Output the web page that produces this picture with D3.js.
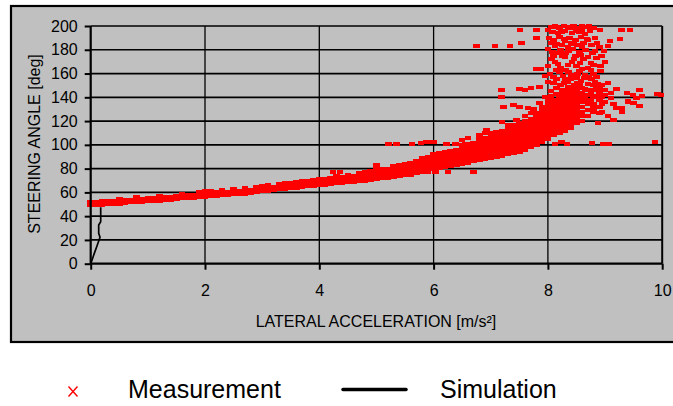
<!DOCTYPE html>
<html>
<head>
<meta charset="utf-8">
<script src="https://cdn.jsdelivr.net/npm/d3@7"></script>
<style>
  html, body { margin: 0; padding: 0; background: #ffffff; }
  svg { display: block; }
  text { font-family: Arial, "Liberation Sans", sans-serif; fill: #000; }
</style>
</head>
<body>
<svg id="chart" width="673" height="406"></svg>
<script>
// ---------------- data ----------------
const xTicks = [0, 2, 4, 6, 8, 10];
const yTicks = [0, 20, 40, 60, 80, 100, 120, 140, 160, 180, 200];
const xTitle = "LATERAL ACCELERATION [m/s²]";
const yTitle = "STEERING ANGLE [deg]";
const seriesNames = ["Measurement", "Simulation"];

// Simulation curve [lateral acceleration, steering angle]
const simulation = [
  [0.00, 0], [0.03, 4], [0.063, 8.7], [0.105, 14.3], [0.163, 22.2],
  [0.14, 25.6], [0.14, 32.6], [0.175, 35.3], [0.175, 47.4]
];

// Measurement band: [lateral acceleration, steering angle samples...]
const measurementBand = [
  [0.0, 49, 51.5], [0.1, 49.5, 52], [0.2, 49, 51.5, 53], [0.3, 50, 52.5],
  [0.4, 50.5, 53], [0.5, 50.5, 53, 54.5], [0.6, 51, 53.5], [0.7, 51.5, 54],
  [0.8, 51.5, 54.5, 56], [0.9, 52, 54.5], [1.0, 52.5, 55], [1.1, 53, 55.5],
  [1.2, 53, 55.5, 57], [1.3, 53.5, 56], [1.4, 54, 56.5], [1.5, 54.5, 57],
  [1.6, 55, 57.5, 59], [1.7, 55, 57.5], [1.8, 55.5, 58], [1.9, 56, 58.5, 60],
  [2.0, 56.5, 59, 61.5], [2.1, 57, 59.5, 61], [2.2, 57, 60], [2.3, 57.5, 60, 62],
  [2.4, 58, 60.5], [2.5, 58.5, 61, 63], [2.6, 59, 61.5], [2.7, 59, 62, 64],
  [2.8, 59.5, 62], [2.9, 60, 62.5, 64.5], [3.0, 61, 63.5, 65], [3.1, 61.5, 64, 66],
  [3.2, 62, 64.5], [3.3, 62.5, 65, 67], [3.4, 63, 65.5, 67.5], [3.5, 63.5, 66, 68],
  [3.6, 64, 66.5, 69], [3.7, 64.5, 67, 69.5], [3.8, 65, 67.5, 70], [3.9, 65.5, 68, 70.5],
  [4.0, 66, 68.5, 71], [4.1, 66.5, 69, 71.5], [4.2, 67, 69.5, 72], [4.3, 67.5, 70, 72.5, 74],
  [4.4, 68, 70.5, 73], [4.5, 68.5, 71, 73.5, 75], [4.6, 69, 71.5, 74], [4.7, 69.5, 72, 74.5, 76.5],
  [4.8, 70, 72.5, 75, 77.5], [4.9, 70.5, 73, 75.5, 78], [5.0, 71, 73.5, 76, 78.5, 80],
  [5.1, 72, 74.5, 77, 79.5], [5.2, 72.5, 75, 77.5, 80], [5.3, 73, 75.5, 78, 80.5, 82],
  [5.4, 73.5, 76, 78.5, 81, 83], [5.5, 74.5, 77, 79.5, 82, 84], [5.6, 75, 77.5, 80, 82.5, 85],
  [5.7, 76, 78.5, 81, 83.5, 86], [5.8, 77, 79.5, 82, 84.5, 87, 89], [5.9, 78, 80.5, 83, 85.5, 88, 90],
  [6.0, 79.5, 82, 84.5, 87, 89.5, 92], [6.1, 80.5, 83, 85.5, 88, 90.5, 93],
  [6.2, 81, 84, 86.5, 89, 91.5, 94], [6.3, 82, 85, 87.5, 90, 92.5, 95],
  [6.4, 83, 86, 88.5, 91, 93.5, 96], [6.5, 84, 87, 89.5, 92, 94.5, 97, 99.5],
  [6.6, 85, 88, 90.5, 93, 95.5, 98, 100.5], [6.7, 86, 89, 91.5, 94, 96.5, 99, 101.5],
  [6.8, 87, 90, 92.5, 95, 97.5, 100, 102.5, 105], [6.9, 88, 91, 93.5, 96, 98.5, 101, 103.5, 106],
  [7.0, 89, 92, 94.5, 97, 99.5, 102, 104.5, 107, 110], [7.1, 90, 93, 95.5, 98, 100.5, 103, 105.5, 108, 111],
  [7.2, 91, 94, 96.5, 99, 101.5, 104, 106.5, 109, 112], [7.3, 92, 95, 97.5, 100, 102.5, 105, 107.5, 110, 113],
  [7.4, 93, 96, 98.5, 101, 103.5, 106, 108.5, 111, 114, 117], [7.5, 94, 97, 99.5, 102, 104.5, 107, 109.5, 112, 115, 118],
  [7.6, 96, 99, 101.5, 104, 106.5, 109, 111.5, 114, 117, 120], [7.7, 98, 101, 103.5, 106, 108.5, 111, 113.5, 116, 119, 122],
  [7.8, 100, 103, 105.5, 108, 110.5, 113, 115.5, 118, 121, 124, 127],
  [7.9, 102, 105, 107.5, 110, 112.5, 115, 117.5, 120, 123, 126, 129],
  [8.0, 105, 108, 110.5, 113, 115.5, 118, 120.5, 123, 126, 129, 132, 135],
  [8.1, 108, 111, 113.5, 116, 118.5, 121, 123.5, 126, 129, 132, 135, 138],
  [8.2, 110, 113, 116, 119, 122, 125, 128, 131, 134, 137, 140, 143],
  [8.3, 112, 115, 118, 121, 124, 127, 130, 133, 136, 139, 142, 145],
  [8.4, 114, 117, 120, 123, 126, 129, 132, 135, 138, 141, 144, 147],
  [8.5, 118, 121, 124, 127, 130, 133, 136, 139, 142, 145, 148],
  [8.6, 120, 124, 128, 132, 136, 140, 144, 148],
  [8.7, 124, 129, 134, 138, 142, 146],
  [8.8, 128, 134, 140, 146, 150],
  [8.9, 132, 138, 144, 149]
];

// Measurement scatter outside the main band: [lateral acceleration, steering angle]
const measurementScatter = [
  [8.05,199],[8.12,200],[8.2,198],[8.28,200],[8.35,199],[8.45,200],[8.52,198],[8.6,200],[8.68,199],
  [8.08,195],[8.18,194],[8.3,196],[8.42,194],[8.55,195],[8.65,193],[8.74,196],
  [8.02,190],[8.1,188],[8.2,191],[8.3,187],[8.38,190],[8.48,188],[8.58,191],[8.7,188],[8.82,190],
  [8.15,185],[8.25,184],[8.4,186],[8.52,184],[8.62,186],
  [8.0,181],[8.08,178],[8.22,180],[8.32,177],[8.44,181],[8.55,178],[8.66,180],[8.78,177],[8.9,182],[8.98,179],[9.05,183],
  [8.06,172],[8.18,168],[8.3,174],[8.42,170],[8.5,166],[8.62,172],[8.75,169],[8.85,173],[9.0,170],[8.25,175],
  [7.88,164],[8.04,160],[8.15,163],[8.26,158],[8.36,161],[8.45,157],[8.55,162],[8.65,159],[8.75,163],[8.85,157],[8.5,156],[8.3,155],
  [8.1,152],[8.22,150],[8.34,153],[8.46,150],[8.58,154],[8.7,151],[8.82,153],[8.95,150],[9.05,152],
  [8.0,197],[8.15,199],[8.24,195],[8.4,198],[8.5,196],[8.6,197],[8.72,200],[8.8,198],
  [8.05,186],[8.12,183],[8.28,189],[8.35,182],[8.46,185],[8.6,182],[8.68,189],[8.76,184],[8.86,186],
  [8.1,175],[8.2,177],[8.36,179],[8.48,175],[8.58,176],[8.7,174],[8.82,179],[8.94,175],
  [8.0,166],[8.12,170],[8.22,165],[8.35,167],[8.46,172],[8.56,169],[8.7,165],[8.8,167],[8.92,166],
  [7.95,158],[8.1,157],[8.2,161],[8.32,163],[8.4,159],[8.52,160],[8.6,164],[8.72,157],[8.8,160],[8.92,162],
  [8.0,153],[8.15,155],[8.28,152],[8.4,155],[8.52,152],[8.64,156],[8.76,155],[8.88,151],
  [8.05,141],[8.15,143],[8.25,139],[8.35,141],[8.45,138],[8.55,142],[8.65,140],[8.75,137],[8.85,141],
  [6.75,183],[7.07,183],[7.34,183],[7.51,197],[7.8,197],[7.54,186],[7.8,190],[7.8,164],
  [8.91,197],[9.29,197],[9.44,197],[9.09,187],[9.26,189],
  [7.19,146],[7.19,140.5],[7.5,147],[7.6,146],[7.7,148],[7.85,149],[9.1,144],[9.2,147],
  [9.38,144],[9.49,142],[9.6,146],[9.92,143],[9.98,142],[9.0,146],[8.95,140],
  [7.22,132],[7.4,133.5],[7.5,132],[7.65,131],[9.0,136],[9.15,134],[9.3,131],[9.4,137],[9.6,132.6],[9.5,135],
  [5.21,101],[5.35,101],[5.62,101],[5.78,101.5],[5.88,102],[6.0,102],[6.23,101],[6.38,101],[6.55,100.5],[6.7,101],
  [7.74,101],[8.12,101],[8.24,102],[8.33,101],[8.77,101.5],[8.96,101],[9.07,101],[9.87,102],
  [4.24,77],[4.36,77],[5.9,77],[6.03,77],[6.25,77],[6.7,77],[5.0,83],
  [8.9,145],[9.0,142],[9.1,139],[9.2,131],[9.3,128],[9.4,136],[9.55,139],[9.65,141],
  [8.95,128],[9.05,124],[9.15,121],[8.88,118],
  [6.5,104],[6.6,106],[6.8,108],[6.93,112.5],[6.9,110],[7.2,119.5],[7.3,117],[7.45,121],[7.6,124],[7.7,127],
  [7.75,130],[7.85,135],[7.95,140],[8.05,145],[8.15,148],[8.25,146],[8.35,149],[8.45,144],[8.55,150],
  [8.65,147],[8.75,144],[8.85,148],[7.9,132],[8.0,138],[8.6,138],[8.7,135],[8.8,131],[8.9,127],[8.95,134]
];

// ---------------- drawing ----------------
const svg = d3.select("#chart");
const plot = { left: 90.7, right: 662.2, top: 26, bottom: 263.7 };

const x = d3.scaleLinear().domain([0, 10]).range([plot.left, plot.right]);
const y = d3.scaleLinear().domain([0, 200]).range([plot.bottom, plot.top]);

// chart area
svg.append("rect")
  .attr("x", 11).attr("y", 6).attr("width", 700).attr("height", 336)
  .attr("fill", "#c0c0c0").attr("stroke", "#000").attr("stroke-width", 2.2);

// vertical gridlines
svg.append("g").selectAll("line").data(xTicks.filter(d => d > 0 && d < 10)).join("line")
  .attr("x1", d => x(d)).attr("x2", d => x(d))
  .attr("y1", y(200)).attr("y2", y(0))
  .attr("stroke", "#000").attr("stroke-width", 1.3);

// horizontal gridlines
svg.append("g").selectAll("line").data(yTicks.filter(d => d > 0)).join("line")
  .attr("x1", x(0)).attr("x2", x(10))
  .attr("y1", d => y(d)).attr("y2", d => y(d))
  .attr("stroke", "#000").attr("stroke-width", 1.7);

// plot right border
svg.append("line")
  .attr("x1", x(10)).attr("x2", x(10)).attr("y1", y(200)).attr("y2", y(0))
  .attr("stroke", "#000").attr("stroke-width", 2);

// measurement points
const bandPts = measurementBand.flatMap(r => r.slice(1).map(v => [r[0], v]));
const allPts = bandPts.concat(measurementScatter);
svg.append("g").attr("shape-rendering", "crispEdges").selectAll("rect").data(allPts).join("rect")
  .attr("x", d => x(d[0]) - 3.25).attr("y", d => y(d[1]) - 2)
  .attr("width", 6.5).attr("height", 4)
  .attr("fill", "#ff0000");

// axes
const yAxis = svg.append("g").attr("transform", `translate(${x(0)},0)`)
  .call(d3.axisLeft(y).tickValues(yTicks).tickSize(6).tickPadding(7).tickFormat(d3.format("d")));
const xAxis = svg.append("g").attr("transform", `translate(0,${y(0)})`)
  .call(d3.axisBottom(x).tickValues(xTicks).tickSize(6).tickPadding(14.5).tickFormat(d3.format("d")));
[yAxis, xAxis].forEach(g => {
  g.select(".domain").remove();
  g.selectAll(".tick line").attr("stroke", "#000").attr("stroke-width", 2);
  g.selectAll(".tick text").attr("font-size", 16).attr("font-family", "Arial, 'Liberation Sans', sans-serif").attr("fill", "#000");
});
svg.append("line").attr("x1", x(0)).attr("x2", x(0)).attr("y1", y(200)).attr("y2", y(0))
  .attr("stroke", "#000").attr("stroke-width", 2.2);
svg.append("line").attr("x1", x(0)).attr("x2", x(10)).attr("y1", y(0)).attr("y2", y(0))
  .attr("stroke", "#000").attr("stroke-width", 2.2);

// simulation line
svg.append("path").datum(simulation)
  .attr("d", d3.line().x(d => x(d[0])).y(d => y(d[1])))
  .attr("fill", "none").attr("stroke", "#000").attr("stroke-width", 1.7);

// axis titles
svg.append("text").attr("x", 376).attr("y", 326.5).attr("text-anchor", "middle")
  .attr("font-size", 16).text(xTitle);
svg.append("text").attr("transform", "translate(39.5,144) rotate(-90)").attr("text-anchor", "middle")
  .attr("font-size", 16).text(yTitle);

// legend
const lg = svg.append("g");
lg.append("path").attr("d", "M68.5,386.5L77.5,396.5M77.5,386.5L68.5,396.5")
  .attr("stroke", "#ff0000").attr("stroke-width", 1.4).attr("fill", "none");
lg.append("text").attr("x", 128).attr("y", 398).attr("font-size", 25).text(seriesNames[0]);
lg.append("line").attr("x1", 343).attr("x2", 406).attr("y1", 389.5).attr("y2", 389.5)
  .attr("stroke", "#000").attr("stroke-width", 3.5).attr("stroke-linecap", "round");
lg.append("text").attr("x", 440).attr("y", 398).attr("font-size", 25).text(seriesNames[1]);
</script>
</body>
</html>
